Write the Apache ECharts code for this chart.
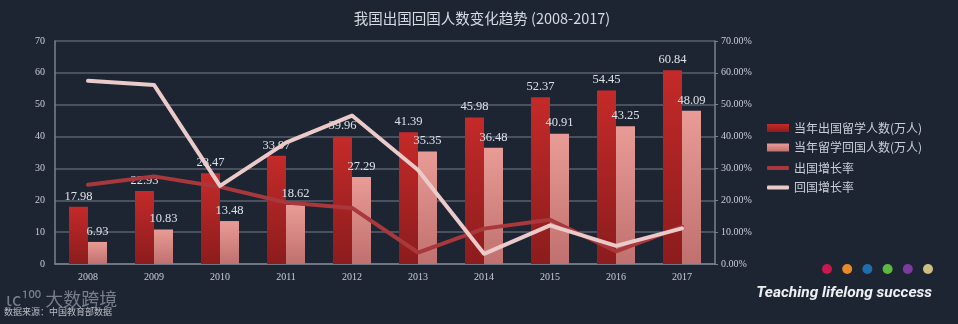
<!DOCTYPE html>
<html>
<head>
<meta charset="utf-8">
<script src="https://cdn.jsdelivr.net/npm/echarts@6/dist/echarts.min.js"></script>
<style>
  html, body { margin: 0; padding: 0; background: #1d2432; }
  #chart { width: 958px; height: 324px; }
</style>
</head>
<body>
<div id="chart"></div>
<script>
// Years on the category axis
const years = ['2008', '2009', '2010', '2011', '2012', '2013', '2014', '2015', '2016', '2017'];
// Students going abroad each year (10k people)
const outbound = [17.98, 22.93, 28.47, 33.97, 39.96, 41.39, 45.98, 52.37, 54.45, 60.84];
// Students returning each year (10k people)
const returning = [6.93, 10.83, 13.48, 18.62, 27.29, 35.35, 36.48, 40.91, 43.25, 48.09];
// Year-on-year growth, percent
const outboundGrowth = [24.9, 27.5, 24.2, 19.3, 17.6, 3.6, 11.1, 13.9, 4.0, 11.7];
const returningGrowth = [57.5, 56.2, 24.5, 38.1, 46.6, 29.5, 3.2, 12.1, 5.7, 11.2];
// Left and right axis ranges
const countMax = 70, rateMax = 70, step = 10;

const serif = '"Liberation Serif", "DejaVu Serif", serif';
const cjk = '"Noto Sans CJK SC", "Noto Sans", sans-serif';
const textColor = '#c9ced8';
const gridColor = '#58606e';

const chart = echarts.init(document.getElementById('chart'), null, { renderer: 'canvas' });

const grad = (top, bottom) => new echarts.graphic.LinearGradient(0, 0, 0, 1, [
  { offset: 0, color: top }, { offset: 1, color: bottom }
]);

const dotColors = ['#c8184e', '#e88a2a', '#1f6fae', '#5db843', '#7a3a9e', '#cdbf80'];

const legendText = { color: textColor, fontSize: 12, fontFamily: cjk };

chart.setOption({
  backgroundColor: '#1d2432',
  animation: false,
  title: {
    text: '我国出国回国人数变化趋势 (2008-2017)',
    left: 477, top: 6, textAlign: 'center',
    textStyle: { color: '#d6dae2', fontSize: 14.5, fontWeight: 'normal', fontFamily: cjk }
  },
  legend: [
    {
      orient: 'vertical', left: 762, top: 117,
      itemWidth: 22, itemHeight: 8, itemGap: 7.5,
      textStyle: legendText,
      data: [
        { name: '当年出国留学人数(万人)', icon: 'rect' },
        { name: '当年留学回国人数(万人)', icon: 'rect' }
      ]
    },
    {
      orient: 'vertical', left: 762, top: 157,
      itemWidth: 22, itemHeight: 4, itemGap: 7.5,
      textStyle: legendText,
      data: [
        { name: '出国增长率', icon: 'roundRect' },
        { name: '回国增长率', icon: 'roundRect' }
      ]
    }
  ],
  grid: { left: 55, right: 243, top: 41, bottom: 60 },
  xAxis: {
    type: 'category',
    data: years,
    axisLine: { lineStyle: { color: '#7a828f', width: 1.5 } },
    axisTick: { show: false },
    axisLabel: { color: textColor, fontFamily: serif, fontSize: 10, margin: 8 }
  },
  yAxis: [
    {
      type: 'value', min: 0, max: countMax, interval: step,
      axisLine: { show: true, lineStyle: { color: '#7a828f', width: 1.5 } },
      axisTick: { show: false },
      splitLine: { lineStyle: { color: gridColor, width: 1.5 } },
      axisLabel: { color: textColor, fontFamily: serif, fontSize: 10, margin: 10 }
    },
    {
      type: 'value', min: 0, max: rateMax, interval: step,
      position: 'right',
      axisLine: { show: true, lineStyle: { color: '#7a828f', width: 1.5 } },
      axisTick: { show: true, length: 3, lineStyle: { color: '#7a828f' } },
      splitLine: { show: false },
      axisLabel: {
        color: textColor, fontFamily: serif, fontSize: 10, margin: 6,
        formatter: v => v.toFixed(2) + '%'
      }
    }
  ],
  series: [
    {
      name: '当年出国留学人数(万人)', type: 'bar', data: outbound,
      barWidth: 19, barGap: '0%',
      itemStyle: { color: grad('#c42a29', '#8c1c1d') },
      label: { show: true, position: 'top', color: '#dde1e8', fontFamily: serif, fontSize: 12.5, distance: 4 }
    },
    {
      name: '当年留学回国人数(万人)', type: 'bar', data: returning,
      barWidth: 19,
      itemStyle: { color: grad('#e99b96', '#c0716f') },
      label: { show: true, position: 'top', color: '#dde1e8', fontFamily: serif, fontSize: 12.5, distance: 4 }
    },
    {
      name: '出国增长率', type: 'line', yAxisIndex: 1, data: outboundGrowth,
      symbol: 'none',
      lineStyle: { color: '#a8383b', width: 4, cap: 'round', join: 'round' },
      itemStyle: { color: '#a8383b' }
    },
    {
      name: '回国增长率', type: 'line', yAxisIndex: 1, data: returningGrowth,
      symbol: 'none',
      lineStyle: { color: '#ebcaca', width: 4, cap: 'round', join: 'round' },
      itemStyle: { color: '#ebcaca' }
    }
  ],
  graphic: [
    ...dotColors.map((c, i) => ({
      type: 'circle', shape: { cx: 827 + i * 20.2, cy: 269, r: 5 }, style: { fill: c }
    })),
    {
      type: 'text', right: 26, top: 285,
      style: {
        text: 'Teaching lifelong success', fill: '#eef0f4',
        font: 'italic bold 15.5px Roboto, "Open Sans", sans-serif'
      }
    },
    {
      type: 'text', left: 6, top: 290,
      style: { text: 'ɩc¹⁰⁰ 大数跨境', fill: 'rgba(150,156,168,0.75)', font: '18px ' + cjk }
    },
    {
      type: 'text', left: 4, top: 307,
      style: { text: '数据来源：中国教育部数据', fill: 'rgba(220,224,230,0.8)', font: '9px ' + cjk }
    }
  ]
});
</script>
</body>
</html>
